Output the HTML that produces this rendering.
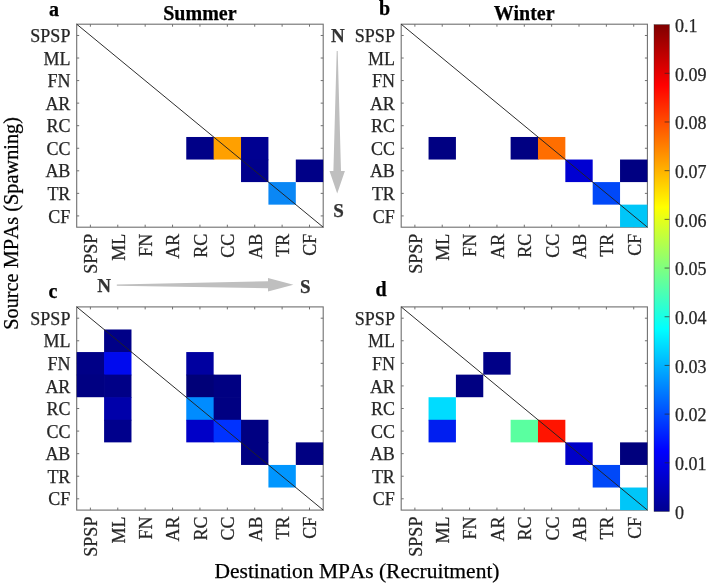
<!DOCTYPE html><html><head><meta charset="utf-8"><style>html,body{margin:0;padding:0;background:#fff;}svg{display:block;will-change:transform;}text{font-family:"Liberation Serif",serif;stroke:currentColor;stroke-width:0.25px;}</style></head><body>
<svg width="709" height="585" viewBox="0 0 709 585">
<defs><linearGradient id="jet" x1="0" y1="1" x2="0" y2="0"><stop offset="0" stop-color="rgb(0,0,143)"/><stop offset="0.125" stop-color="rgb(0,0,255)"/><stop offset="0.375" stop-color="rgb(0,255,255)"/><stop offset="0.625" stop-color="rgb(255,255,0)"/><stop offset="0.875" stop-color="rgb(255,0,0)"/><stop offset="1" stop-color="rgb(128,0,0)"/></linearGradient></defs>
<path d="M90.39 24.20v2.5M90.39 227.20v-2.5M76.70 35.48h2.5M323.20 35.48h-2.5M117.78 24.20v2.5M117.78 227.20v-2.5M76.70 58.03h2.5M323.20 58.03h-2.5M145.17 24.20v2.5M145.17 227.20v-2.5M76.70 80.59h2.5M323.20 80.59h-2.5M172.56 24.20v2.5M172.56 227.20v-2.5M76.70 103.14h2.5M323.20 103.14h-2.5M199.95 24.20v2.5M199.95 227.20v-2.5M76.70 125.70h2.5M323.20 125.70h-2.5M227.34 24.20v2.5M227.34 227.20v-2.5M76.70 148.26h2.5M323.20 148.26h-2.5M254.73 24.20v2.5M254.73 227.20v-2.5M76.70 170.81h2.5M323.20 170.81h-2.5M282.12 24.20v2.5M282.12 227.20v-2.5M76.70 193.37h2.5M323.20 193.37h-2.5M309.51 24.20v2.5M309.51 227.20v-2.5M76.70 215.92h2.5M323.20 215.92h-2.5" stroke="#707070" stroke-width="1" fill="none"/>
<rect x="76.70" y="24.20" width="246.50" height="203.00" fill="none" stroke="#707070" stroke-width="1.1"/>
<rect x="186.26" y="136.98" width="28.09" height="22.56" fill="rgb(0, 0, 135)"/>
<rect x="213.64" y="136.98" width="28.09" height="22.56" fill="rgb(255, 160, 0)"/>
<rect x="241.03" y="136.98" width="27.39" height="23.26" fill="rgb(0, 0, 145)"/>
<rect x="241.03" y="159.53" width="27.39" height="22.56" fill="rgb(0, 0, 140)"/>
<rect x="295.81" y="159.53" width="27.39" height="22.56" fill="rgb(0, 0, 135)"/>
<rect x="268.42" y="182.09" width="27.39" height="22.56" fill="rgb(10, 135, 245)"/>
<line x1="76.70" y1="24.20" x2="323.20" y2="227.20" stroke="#222" stroke-width="0.95"/>
<text x="70.40" y="42.08" font-size="18" text-anchor="end" fill="#262626" color="#262626">SPSP</text>
<text x="70.40" y="64.63" font-size="18" text-anchor="end" fill="#262626" color="#262626">ML</text>
<text x="70.40" y="87.19" font-size="18" text-anchor="end" fill="#262626" color="#262626">FN</text>
<text x="70.40" y="109.74" font-size="18" text-anchor="end" fill="#262626" color="#262626">AR</text>
<text x="70.40" y="132.30" font-size="18" text-anchor="end" fill="#262626" color="#262626">RC</text>
<text x="70.40" y="154.86" font-size="18" text-anchor="end" fill="#262626" color="#262626">CC</text>
<text x="70.40" y="177.41" font-size="18" text-anchor="end" fill="#262626" color="#262626">AB</text>
<text x="70.40" y="199.97" font-size="18" text-anchor="end" fill="#262626" color="#262626">TR</text>
<text x="70.40" y="222.52" font-size="18" text-anchor="end" fill="#262626" color="#262626">CF</text>
<text transform="translate(97.29,233.70) rotate(-90)" font-size="18" text-anchor="end" fill="#262626" color="#262626">SPSP</text>
<text transform="translate(124.68,233.70) rotate(-90)" font-size="18" text-anchor="end" fill="#262626" color="#262626">ML</text>
<text transform="translate(152.07,233.70) rotate(-90)" font-size="18" text-anchor="end" fill="#262626" color="#262626">FN</text>
<text transform="translate(179.46,233.70) rotate(-90)" font-size="18" text-anchor="end" fill="#262626" color="#262626">AR</text>
<text transform="translate(206.85,233.70) rotate(-90)" font-size="18" text-anchor="end" fill="#262626" color="#262626">RC</text>
<text transform="translate(234.24,233.70) rotate(-90)" font-size="18" text-anchor="end" fill="#262626" color="#262626">CC</text>
<text transform="translate(261.63,233.70) rotate(-90)" font-size="18" text-anchor="end" fill="#262626" color="#262626">AB</text>
<text transform="translate(289.02,233.70) rotate(-90)" font-size="18" text-anchor="end" fill="#262626" color="#262626">TR</text>
<text transform="translate(316.41,233.70) rotate(-90)" font-size="18" text-anchor="end" fill="#262626" color="#262626">CF</text>
<path d="M414.88 24.20v2.5M414.88 227.20v-2.5M401.20 35.48h2.5M647.40 35.48h-2.5M442.23 24.20v2.5M442.23 227.20v-2.5M401.20 58.03h2.5M647.40 58.03h-2.5M469.59 24.20v2.5M469.59 227.20v-2.5M401.20 80.59h2.5M647.40 80.59h-2.5M496.94 24.20v2.5M496.94 227.20v-2.5M401.20 103.14h2.5M647.40 103.14h-2.5M524.30 24.20v2.5M524.30 227.20v-2.5M401.20 125.70h2.5M647.40 125.70h-2.5M551.66 24.20v2.5M551.66 227.20v-2.5M401.20 148.26h2.5M647.40 148.26h-2.5M579.01 24.20v2.5M579.01 227.20v-2.5M401.20 170.81h2.5M647.40 170.81h-2.5M606.37 24.20v2.5M606.37 227.20v-2.5M401.20 193.37h2.5M647.40 193.37h-2.5M633.72 24.20v2.5M633.72 227.20v-2.5M401.20 215.92h2.5M647.40 215.92h-2.5" stroke="#707070" stroke-width="1" fill="none"/>
<rect x="401.20" y="24.20" width="246.20" height="203.00" fill="none" stroke="#707070" stroke-width="1.1"/>
<rect x="428.56" y="136.98" width="27.36" height="22.56" fill="rgb(0, 0, 130)"/>
<rect x="510.62" y="136.98" width="28.06" height="22.56" fill="rgb(0, 0, 130)"/>
<rect x="537.98" y="136.98" width="27.36" height="22.56" fill="rgb(255, 110, 0)"/>
<rect x="565.33" y="159.53" width="27.36" height="22.56" fill="rgb(0, 0, 210)"/>
<rect x="620.04" y="159.53" width="27.36" height="22.56" fill="rgb(0, 0, 130)"/>
<rect x="592.69" y="182.09" width="27.36" height="22.56" fill="rgb(0, 72, 248)"/>
<rect x="620.04" y="204.64" width="27.36" height="22.56" fill="rgb(0, 198, 248)"/>
<line x1="401.20" y1="24.20" x2="647.40" y2="227.20" stroke="#222" stroke-width="0.95"/>
<text x="394.90" y="42.08" font-size="18" text-anchor="end" fill="#262626" color="#262626">SPSP</text>
<text x="394.90" y="64.63" font-size="18" text-anchor="end" fill="#262626" color="#262626">ML</text>
<text x="394.90" y="87.19" font-size="18" text-anchor="end" fill="#262626" color="#262626">FN</text>
<text x="394.90" y="109.74" font-size="18" text-anchor="end" fill="#262626" color="#262626">AR</text>
<text x="394.90" y="132.30" font-size="18" text-anchor="end" fill="#262626" color="#262626">RC</text>
<text x="394.90" y="154.86" font-size="18" text-anchor="end" fill="#262626" color="#262626">CC</text>
<text x="394.90" y="177.41" font-size="18" text-anchor="end" fill="#262626" color="#262626">AB</text>
<text x="394.90" y="199.97" font-size="18" text-anchor="end" fill="#262626" color="#262626">TR</text>
<text x="394.90" y="222.52" font-size="18" text-anchor="end" fill="#262626" color="#262626">CF</text>
<text transform="translate(421.78,233.70) rotate(-90)" font-size="18" text-anchor="end" fill="#262626" color="#262626">SPSP</text>
<text transform="translate(449.13,233.70) rotate(-90)" font-size="18" text-anchor="end" fill="#262626" color="#262626">ML</text>
<text transform="translate(476.49,233.70) rotate(-90)" font-size="18" text-anchor="end" fill="#262626" color="#262626">FN</text>
<text transform="translate(503.84,233.70) rotate(-90)" font-size="18" text-anchor="end" fill="#262626" color="#262626">AR</text>
<text transform="translate(531.20,233.70) rotate(-90)" font-size="18" text-anchor="end" fill="#262626" color="#262626">RC</text>
<text transform="translate(558.56,233.70) rotate(-90)" font-size="18" text-anchor="end" fill="#262626" color="#262626">CC</text>
<text transform="translate(585.91,233.70) rotate(-90)" font-size="18" text-anchor="end" fill="#262626" color="#262626">AB</text>
<text transform="translate(613.27,233.70) rotate(-90)" font-size="18" text-anchor="end" fill="#262626" color="#262626">TR</text>
<text transform="translate(640.62,233.70) rotate(-90)" font-size="18" text-anchor="end" fill="#262626" color="#262626">CF</text>
<path d="M90.39 306.90v2.5M90.39 510.10v-2.5M76.70 318.19h2.5M323.20 318.19h-2.5M117.78 306.90v2.5M117.78 510.10v-2.5M76.70 340.77h2.5M323.20 340.77h-2.5M145.17 306.90v2.5M145.17 510.10v-2.5M76.70 363.34h2.5M323.20 363.34h-2.5M172.56 306.90v2.5M172.56 510.10v-2.5M76.70 385.92h2.5M323.20 385.92h-2.5M199.95 306.90v2.5M199.95 510.10v-2.5M76.70 408.50h2.5M323.20 408.50h-2.5M227.34 306.90v2.5M227.34 510.10v-2.5M76.70 431.08h2.5M323.20 431.08h-2.5M254.73 306.90v2.5M254.73 510.10v-2.5M76.70 453.66h2.5M323.20 453.66h-2.5M282.12 306.90v2.5M282.12 510.10v-2.5M76.70 476.23h2.5M323.20 476.23h-2.5M309.51 306.90v2.5M309.51 510.10v-2.5M76.70 498.81h2.5M323.20 498.81h-2.5" stroke="#707070" stroke-width="1" fill="none"/>
<rect x="76.70" y="306.90" width="246.50" height="203.20" fill="none" stroke="#707070" stroke-width="1.1"/>
<rect x="104.09" y="329.48" width="27.39" height="23.28" fill="rgb(0, 0, 135)"/>
<rect x="76.70" y="352.06" width="28.09" height="23.28" fill="rgb(0, 0, 135)"/>
<rect x="104.09" y="352.06" width="27.39" height="23.28" fill="rgb(0, 10, 238)"/>
<rect x="186.26" y="352.06" width="27.39" height="23.28" fill="rgb(0, 0, 160)"/>
<rect x="76.70" y="374.63" width="28.09" height="22.58" fill="rgb(0, 0, 130)"/>
<rect x="104.09" y="374.63" width="27.39" height="23.28" fill="rgb(0, 0, 135)"/>
<rect x="186.26" y="374.63" width="28.09" height="23.28" fill="rgb(0, 0, 120)"/>
<rect x="213.64" y="374.63" width="27.39" height="23.28" fill="rgb(0, 0, 130)"/>
<rect x="104.09" y="397.21" width="27.39" height="23.28" fill="rgb(0, 0, 170)"/>
<rect x="186.26" y="397.21" width="28.09" height="23.28" fill="rgb(0, 140, 255)"/>
<rect x="213.64" y="397.21" width="27.39" height="23.28" fill="rgb(0, 0, 130)"/>
<rect x="104.09" y="419.79" width="27.39" height="22.58" fill="rgb(0, 0, 140)"/>
<rect x="186.26" y="419.79" width="28.09" height="22.58" fill="rgb(0, 0, 200)"/>
<rect x="213.64" y="419.79" width="28.09" height="22.58" fill="rgb(0, 50, 255)"/>
<rect x="241.03" y="419.79" width="27.39" height="23.28" fill="rgb(0, 0, 130)"/>
<rect x="241.03" y="442.37" width="27.39" height="22.58" fill="rgb(0, 0, 130)"/>
<rect x="295.81" y="442.37" width="27.39" height="22.58" fill="rgb(0, 0, 130)"/>
<rect x="268.42" y="464.94" width="27.39" height="22.58" fill="rgb(0, 150, 255)"/>
<line x1="76.70" y1="306.90" x2="323.20" y2="510.10" stroke="#222" stroke-width="0.95"/>
<text x="70.40" y="324.79" font-size="18" text-anchor="end" fill="#262626" color="#262626">SPSP</text>
<text x="70.40" y="347.37" font-size="18" text-anchor="end" fill="#262626" color="#262626">ML</text>
<text x="70.40" y="369.94" font-size="18" text-anchor="end" fill="#262626" color="#262626">FN</text>
<text x="70.40" y="392.52" font-size="18" text-anchor="end" fill="#262626" color="#262626">AR</text>
<text x="70.40" y="415.10" font-size="18" text-anchor="end" fill="#262626" color="#262626">RC</text>
<text x="70.40" y="437.68" font-size="18" text-anchor="end" fill="#262626" color="#262626">CC</text>
<text x="70.40" y="460.26" font-size="18" text-anchor="end" fill="#262626" color="#262626">AB</text>
<text x="70.40" y="482.83" font-size="18" text-anchor="end" fill="#262626" color="#262626">TR</text>
<text x="70.40" y="505.41" font-size="18" text-anchor="end" fill="#262626" color="#262626">CF</text>
<text transform="translate(97.29,516.60) rotate(-90)" font-size="18" text-anchor="end" fill="#262626" color="#262626">SPSP</text>
<text transform="translate(124.68,516.60) rotate(-90)" font-size="18" text-anchor="end" fill="#262626" color="#262626">ML</text>
<text transform="translate(152.07,516.60) rotate(-90)" font-size="18" text-anchor="end" fill="#262626" color="#262626">FN</text>
<text transform="translate(179.46,516.60) rotate(-90)" font-size="18" text-anchor="end" fill="#262626" color="#262626">AR</text>
<text transform="translate(206.85,516.60) rotate(-90)" font-size="18" text-anchor="end" fill="#262626" color="#262626">RC</text>
<text transform="translate(234.24,516.60) rotate(-90)" font-size="18" text-anchor="end" fill="#262626" color="#262626">CC</text>
<text transform="translate(261.63,516.60) rotate(-90)" font-size="18" text-anchor="end" fill="#262626" color="#262626">AB</text>
<text transform="translate(289.02,516.60) rotate(-90)" font-size="18" text-anchor="end" fill="#262626" color="#262626">TR</text>
<text transform="translate(316.41,516.60) rotate(-90)" font-size="18" text-anchor="end" fill="#262626" color="#262626">CF</text>
<path d="M414.88 306.90v2.5M414.88 510.10v-2.5M401.20 318.19h2.5M647.40 318.19h-2.5M442.23 306.90v2.5M442.23 510.10v-2.5M401.20 340.77h2.5M647.40 340.77h-2.5M469.59 306.90v2.5M469.59 510.10v-2.5M401.20 363.34h2.5M647.40 363.34h-2.5M496.94 306.90v2.5M496.94 510.10v-2.5M401.20 385.92h2.5M647.40 385.92h-2.5M524.30 306.90v2.5M524.30 510.10v-2.5M401.20 408.50h2.5M647.40 408.50h-2.5M551.66 306.90v2.5M551.66 510.10v-2.5M401.20 431.08h2.5M647.40 431.08h-2.5M579.01 306.90v2.5M579.01 510.10v-2.5M401.20 453.66h2.5M647.40 453.66h-2.5M606.37 306.90v2.5M606.37 510.10v-2.5M401.20 476.23h2.5M647.40 476.23h-2.5M633.72 306.90v2.5M633.72 510.10v-2.5M401.20 498.81h2.5M647.40 498.81h-2.5" stroke="#707070" stroke-width="1" fill="none"/>
<rect x="401.20" y="306.90" width="246.20" height="203.20" fill="none" stroke="#707070" stroke-width="1.1"/>
<rect x="483.27" y="352.06" width="27.36" height="22.58" fill="rgb(0, 0, 135)"/>
<rect x="455.91" y="374.63" width="27.36" height="22.58" fill="rgb(0, 0, 130)"/>
<rect x="428.56" y="397.21" width="27.36" height="23.28" fill="rgb(0, 220, 255)"/>
<rect x="428.56" y="419.79" width="27.36" height="22.58" fill="rgb(0, 30, 240)"/>
<rect x="510.62" y="419.79" width="28.06" height="22.58" fill="rgb(90, 255, 160)"/>
<rect x="537.98" y="419.79" width="27.36" height="22.58" fill="rgb(255, 20, 0)"/>
<rect x="565.33" y="442.37" width="27.36" height="22.58" fill="rgb(0, 0, 200)"/>
<rect x="620.04" y="442.37" width="27.36" height="22.58" fill="rgb(0, 0, 125)"/>
<rect x="592.69" y="464.94" width="27.36" height="22.58" fill="rgb(0, 72, 248)"/>
<rect x="620.04" y="487.52" width="27.36" height="22.58" fill="rgb(0, 198, 248)"/>
<line x1="401.20" y1="306.90" x2="647.40" y2="510.10" stroke="#222" stroke-width="0.95"/>
<text x="394.90" y="324.79" font-size="18" text-anchor="end" fill="#262626" color="#262626">SPSP</text>
<text x="394.90" y="347.37" font-size="18" text-anchor="end" fill="#262626" color="#262626">ML</text>
<text x="394.90" y="369.94" font-size="18" text-anchor="end" fill="#262626" color="#262626">FN</text>
<text x="394.90" y="392.52" font-size="18" text-anchor="end" fill="#262626" color="#262626">AR</text>
<text x="394.90" y="415.10" font-size="18" text-anchor="end" fill="#262626" color="#262626">RC</text>
<text x="394.90" y="437.68" font-size="18" text-anchor="end" fill="#262626" color="#262626">CC</text>
<text x="394.90" y="460.26" font-size="18" text-anchor="end" fill="#262626" color="#262626">AB</text>
<text x="394.90" y="482.83" font-size="18" text-anchor="end" fill="#262626" color="#262626">TR</text>
<text x="394.90" y="505.41" font-size="18" text-anchor="end" fill="#262626" color="#262626">CF</text>
<text transform="translate(421.78,516.60) rotate(-90)" font-size="18" text-anchor="end" fill="#262626" color="#262626">SPSP</text>
<text transform="translate(449.13,516.60) rotate(-90)" font-size="18" text-anchor="end" fill="#262626" color="#262626">ML</text>
<text transform="translate(476.49,516.60) rotate(-90)" font-size="18" text-anchor="end" fill="#262626" color="#262626">FN</text>
<text transform="translate(503.84,516.60) rotate(-90)" font-size="18" text-anchor="end" fill="#262626" color="#262626">AR</text>
<text transform="translate(531.20,516.60) rotate(-90)" font-size="18" text-anchor="end" fill="#262626" color="#262626">RC</text>
<text transform="translate(558.56,516.60) rotate(-90)" font-size="18" text-anchor="end" fill="#262626" color="#262626">CC</text>
<text transform="translate(585.91,516.60) rotate(-90)" font-size="18" text-anchor="end" fill="#262626" color="#262626">AB</text>
<text transform="translate(613.27,516.60) rotate(-90)" font-size="18" text-anchor="end" fill="#262626" color="#262626">TR</text>
<text transform="translate(640.62,516.60) rotate(-90)" font-size="18" text-anchor="end" fill="#262626" color="#262626">CF</text>
<text x="49" y="15.5" font-size="20" font-weight="bold" fill="#000" color="#000">a</text>
<text x="379" y="15.2" font-size="20" font-weight="bold" fill="#000" color="#000">b</text>
<text x="48.5" y="297.5" font-size="20" font-weight="bold" fill="#000" color="#000">c</text>
<text x="375.5" y="295.7" font-size="20" font-weight="bold" fill="#000" color="#000">d</text>
<text x="199.9" y="19.8" font-size="20" font-weight="bold" text-anchor="middle" fill="#000" color="#000">Summer</text>
<text x="524.2" y="19.8" font-size="20" font-weight="bold" text-anchor="middle" fill="#000" color="#000">Winter</text>
<text x="337.8" y="42" font-size="19" font-weight="bold" text-anchor="middle" fill="#333" color="#333">N</text>
<text x="338.5" y="216.5" font-size="19" font-weight="bold" text-anchor="middle" fill="#333" color="#333">S</text>
<path d="M336.7 51 L337.7 51 L341.0 171 L344.9 171 L337.2 193.6 L329.5 171 L333.4 171 Z" fill="#bfbfbf"/>
<text x="104" y="292" font-size="19" font-weight="bold" text-anchor="middle" fill="#333" color="#333">N</text>
<text x="305.3" y="292.5" font-size="19" font-weight="bold" text-anchor="middle" fill="#333" color="#333">S</text>
<path d="M116.8 284.4 L116.8 285.8 L268 288.3 L268 291.6 L293.4 284.8 L268 278 L268 281.3 Z" fill="#bfbfbf"/>
<text transform="translate(17.6,223.4) rotate(-90)" font-size="20.3" text-anchor="middle" fill="#000" color="#000">Source MP<tspan dx="1.6">As (Spawning)</tspan></text>
<text x="357" y="577.6" font-size="21.5" text-anchor="middle" fill="#000" color="#000">Destination MP<tspan dx="1.6">As (Recruitment)</tspan></text>
<rect x="654.0" y="24.6" width="15.4" height="486.9" fill="url(#jet)"/>
<path d="M669.40 462.81h-4.8M669.40 414.12h-4.8M669.40 365.43h-4.8M669.40 316.74h-4.8M669.40 268.05h-4.8M669.40 219.36h-4.8M669.40 170.67h-4.8M669.40 121.98h-4.8M669.40 73.29h-4.8" stroke="#262626" stroke-width="0.9" stroke-opacity="0.75" fill="none"/>
<rect x="654.0" y="24.6" width="15.4" height="486.9" fill="none" stroke="#262626" stroke-width="0.6" stroke-opacity="0.6"/>
<text x="675" y="518.80" font-size="18" fill="#262626" color="#262626">0</text>
<text x="675" y="470.11" font-size="18" fill="#262626" color="#262626">0.01</text>
<text x="675" y="421.42" font-size="18" fill="#262626" color="#262626">0.02</text>
<text x="675" y="372.73" font-size="18" fill="#262626" color="#262626">0.03</text>
<text x="675" y="324.04" font-size="18" fill="#262626" color="#262626">0.04</text>
<text x="675" y="275.35" font-size="18" fill="#262626" color="#262626">0.05</text>
<text x="675" y="226.66" font-size="18" fill="#262626" color="#262626">0.06</text>
<text x="675" y="177.97" font-size="18" fill="#262626" color="#262626">0.07</text>
<text x="675" y="129.28" font-size="18" fill="#262626" color="#262626">0.08</text>
<text x="675" y="80.59" font-size="18" fill="#262626" color="#262626">0.09</text>
<text x="675" y="31.90" font-size="18" fill="#262626" color="#262626">0.1</text>
</svg></body></html>
